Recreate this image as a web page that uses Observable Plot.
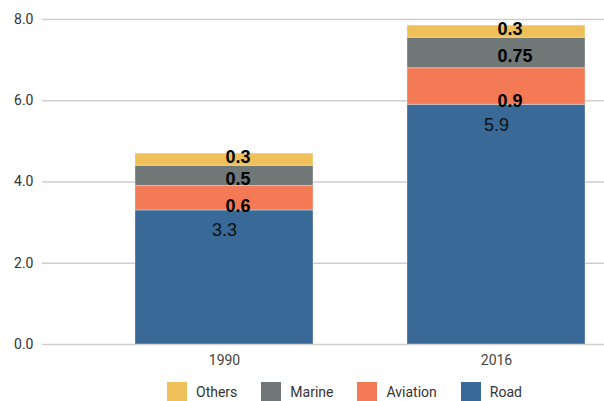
<!DOCTYPE html>
<html>
<head>
<meta charset="utf-8">
<script src="https://cdn.jsdelivr.net/npm/d3@7"></script>
<script src="https://cdn.jsdelivr.net/npm/@observablehq/plot@0.6"></script>
<style>
  html, body { margin: 0; padding: 0; background: #fff; }
  #chart { width: 604px; }
  .legend { display: flex; align-items: center; margin: 10px 0 0 167px; font: 14px Roboto, "Open Sans", sans-serif; color: #333; }
  .legend .item { display: flex; align-items: center; margin-right: 24px; }
  .legend .sw { width: 20px; height: 20px; margin-right: 9px; }
</style>
</head>
<body>
<div id="chart"></div>
<script>
// Emissions by transport mode, two reference years
const years = ["1990", "2016"];
const modes = ["Road", "Aviation", "Marine", "Others"];
const road = [3.3, 5.9];
const aviation = [0.6, 0.9];
const marine = [0.5, 0.75];
const others = [0.3, 0.3];
const yTicks = [0, 2, 4, 6, 8];
const colors = ["#386997", "#f37a55", "#6f7777", "#efc059"];
const legendOrder = ["Others", "Marine", "Aviation", "Road"];

const seriesByMode = {Road: road, Aviation: aviation, Marine: marine, Others: others};
const rows = [];
years.forEach((year, i) => {
  modes.forEach(mode => rows.push({year, mode, value: seriesByMode[mode][i]}));
});

const base = {x: "year", y: "value", z: "mode", order: modes};
const only = (m) => (d) => d.mode === m ? String(d.value) : null;
const labelFont = "'Liberation Sans', Arial, sans-serif";

const chart = Plot.plot({
  width: 604,
  height: 372,
  marginLeft: 42,
  marginRight: 0,
  marginTop: 19,
  marginBottom: 28,
  style: {fontFamily: "Roboto, 'Open Sans', sans-serif", fontSize: "14px", color: "#333"},
  x: {domain: years, paddingInner: 0.345, paddingOuter: 0.203, align: 0.828, label: null},
  y: {domain: [0, 8], ticks: yTicks, tickFormat: ".1f", label: null},
  color: {domain: modes, range: colors},
  marks: [
    Plot.gridY(yTicks, {stroke: "#cfcfcf", strokeOpacity: 1, strokeWidth: 1.5}),
    Plot.axisY({ticks: yTicks, tickFormat: ".1f", tickSize: 0, tickPadding: 9, label: null, fill: "#333"}),
    Plot.axisX({tickSize: 0, tickPadding: 11, label: null, fill: "#444"}),
    Plot.barY(rows, Plot.stackY({...base, fill: "mode", stroke: "#fff", strokeOpacity: 0.35, strokeWidth: 1})),
    // Road value sits just under the top of its segment
    Plot.text(rows, Plot.stackY2({...base, text: only("Road"), dy: 20, fontSize: 18, fill: "#111", fontFamily: labelFont})),
    // Aviation value sits on the lower edge of its segment
    Plot.text(rows, Plot.stackY1({...base, text: only("Aviation"), dy: -4, dx: 1, textAnchor: "start", fontSize: 18, fontWeight: "bold", fill: "#000", fontFamily: labelFont})),
    Plot.text(rows, Plot.stackY({...base, text: only("Marine"), dy: 3, dx: 1, textAnchor: "start", fontSize: 18, fontWeight: "bold", fill: "#000", fontFamily: labelFont})),
    Plot.text(rows, Plot.stackY({...base, text: only("Others"), dy: -2, dx: 1, textAnchor: "start", fontSize: 18, fontWeight: "bold", fill: "#000", fontFamily: labelFont}))
  ]
});
document.getElementById("chart").appendChild(chart);

// Legend below the plot
const legend = document.createElement("div");
legend.className = "legend";
legendOrder.forEach(m => {
  const item = document.createElement("div");
  item.className = "item";
  const sw = document.createElement("span");
  sw.className = "sw";
  sw.style.background = colors[modes.indexOf(m)];
  const label = document.createElement("span");
  label.textContent = m;
  item.append(sw, label);
  legend.appendChild(item);
});
document.getElementById("chart").appendChild(legend);
</script>
</body>
</html>
